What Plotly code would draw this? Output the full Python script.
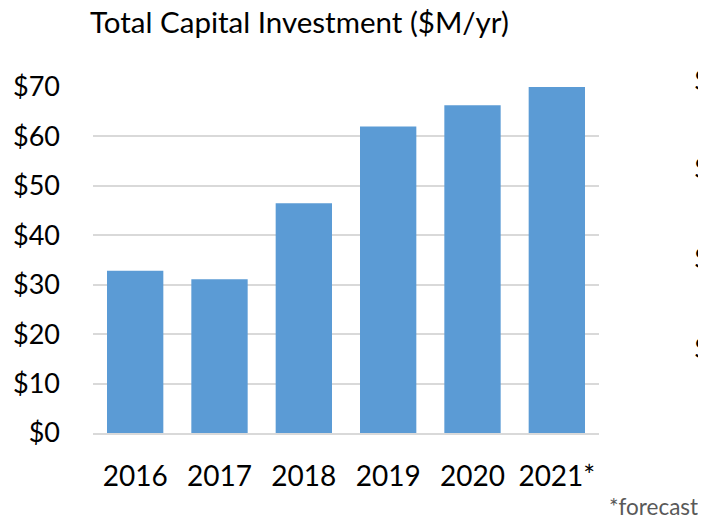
import plotly.graph_objects as go

years = ["2016", "2017", "2018", "2019", "2020", "2021*"]
investment = [32.8, 31.1, 46.5, 62.0, 66.3, 70.0]
y_tick_values = [0, 10, 20, 30, 40, 50, 60, 70]
y_tick_labels = ["$0", "$10", "$20", "$30", "$40", "$50", "$60", "$70"]
title_text = "Total Capital Investment ($M/yr)"
footnote = "*forecast"
clipped_labels = ["$", "$", "$", "$"]
clipped_label_y = [80, 167, 257, 347]

FONT = "Lato"
OFF = 8  # page body margin
W, H = 706 - OFF, 519 - OFF
L, R, T, B = 93 - OFF, 107, 87 - OFF, 86
PW, PH = W - L - R, H - T - B


def px(x):
    return (x - OFF - L) / PW


def py(y):
    return 1 - (y - OFF - T) / PH


fig = go.Figure()
fig.add_trace(go.Bar(
    x=years, y=investment,
    marker=dict(color="#5B9BD5", line=dict(width=0)),
    hoverinfo="skip",
))

fig.update_layout(
    width=W, height=H,
    margin=dict(l=L, r=R, t=T, b=B, autoexpand=False),
    paper_bgcolor="white", plot_bgcolor="white",
    bargap=0.332,
    showlegend=False,
    font=dict(family=FONT, size=27, color="#000000"),
    xaxis=dict(
        showgrid=False, showline=True, linecolor="#D9D9D9", linewidth=1.5,
        ticks="", ticklabelstandoff=18,
        tickfont=dict(family=FONT, size=28, color="#000000"),
    ),
    yaxis=dict(
        range=[0, 70], tickvals=y_tick_values, ticktext=y_tick_labels,
        showgrid=True, gridcolor="#D9D9D9", gridwidth=1.5,
        zeroline=False, showline=False, ticks="",
        ticklabelstandoff=32,
        tickfont=dict(family=FONT, size=27, color="#000000"),
    ),
)

annotations = [
    dict(text=title_text, xref="paper", yref="paper",
         x=px(88), y=py(21),
         xanchor="left", yanchor="middle", showarrow=False,
         font=dict(family=FONT, size=29.5, color="#000000")),
    dict(text=footnote, xref="paper", yref="paper",
         x=px(700), y=py(506),
         xanchor="right", yanchor="middle", showarrow=False,
         font=dict(family=FONT, size=22.5, color="#595959")),
]
for lbl, yy in zip(clipped_labels, clipped_label_y):
    annotations.append(dict(
        text=lbl, xref="paper", yref="paper",
        x=px(692), y=py(yy),
        xanchor="left", yanchor="middle", showarrow=False,
        font=dict(family=FONT, size=27, color="#000000")))
fig.update_layout(annotations=annotations)

fig.write_html("out.html")
